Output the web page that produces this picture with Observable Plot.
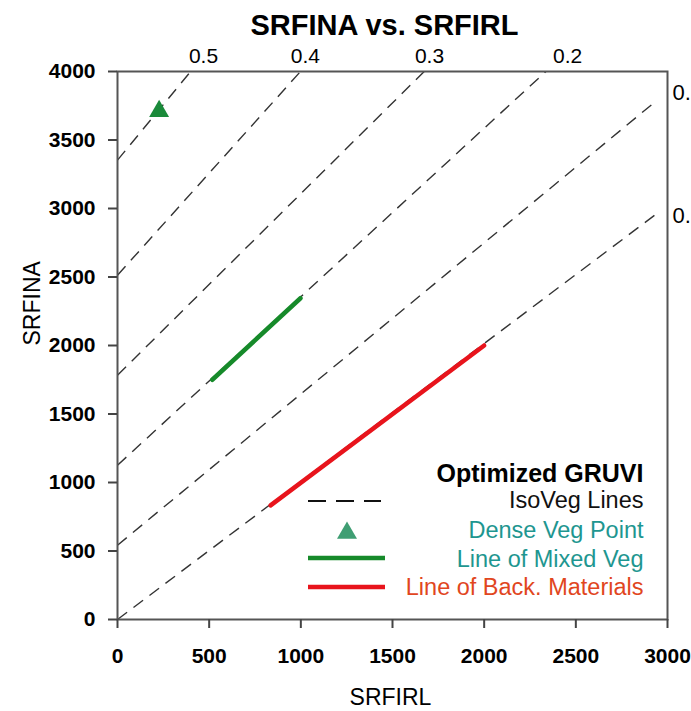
<!DOCTYPE html>
<html><head><meta charset="utf-8">
<script src="https://cdn.jsdelivr.net/npm/d3@7"></script>
<script src="https://cdn.jsdelivr.net/npm/@observablehq/plot@0.6"></script>
<style>body{margin:0;background:#fff}</style>
</head><body><div id="chart"></div>
<script>
// ---- data ----
const isoLevels = ["0.5", "0.4", "0.3", "0.2", "0.1", "0.0"];
const isoX1 = [0, 0, 0, 0, 0, 0];
const isoY1 = [3353, 2513, 1783, 1126, 542, 0];
const isoX2 = [399, 998, 1673, 2337, 2930, 2930];
const isoY2 = [4000, 4000, 4000, 4000, 3776, 2951];

const topLabels = ["0.5", "0.4", "0.3", "0.2"];
const topLabelX = [469, 1025, 1702, 2455];
const sideLabels = ["0.", "0."];
const sideLabelY = [3847, 2949];

const denseVegX = [227];
const denseVegY = [3710];
const mixedVegX = [517, 998];
const mixedVegY = [1750, 2345];
const backMatX = [835, 2000];
const backMatY = [833, 2000];

const xTicks = [0, 500, 1000, 1500, 2000, 2500, 3000];
const yTicks = [0, 500, 1000, 1500, 2000, 2500, 3000, 3500, 4000];

const titleText = "SRFINA vs. SRFIRL";
const xLabel = "SRFIRL";
const yLabel = "SRFINA";
const legendTitle = "Optimized GRUVI";
const legendLabels = ["IsoVeg Lines", "Dense Veg Point", "Line of Mixed Veg", "Line of Back. Materials"];

// ---- build tables ----
const isoData = isoLevels.map((l, i) => ({level: l, x1: isoX1[i], y1: isoY1[i], x2: isoX2[i], y2: isoY2[i]}));
const topLabelData = topLabels.map((t, i) => ({t, x: topLabelX[i], y: 4000}));
const sideLabelData = sideLabels.map((t, i) => ({t, x: 3000, y: sideLabelY[i]}));
const denseVeg = denseVegX.map((x, i) => ({x, y: denseVegY[i]}));
const mixedVeg = mixedVegX.map((x, i) => ({x, y: mixedVegY[i]}));
const backMat = backMatX.map((x, i) => ({x, y: backMatY[i]}));

const FONT = "'Liberation Sans', Arial, sans-serif";
const TEAL = "#1e9690";
const ORANGE = "#e1461e";
const legendColors = ["#111", TEAL, TEAL, ORANGE];
const legendDy = [-119, -89, -60, -32];

function legendSymbols(index, scales, values, dims) {
  const g = d3.create("svg:g");
  g.append("line").attr("x1", 308).attr("x2", 381).attr("y1", 501).attr("y2", 501)
    .attr("stroke", "#111").attr("stroke-width", 2.2).attr("stroke-dasharray", "18,10");
  g.append("path").attr("d", d3.symbol(d3.symbolTriangle, 173)())
    .attr("transform", "translate(347,533)").attr("fill", "#3f9e73");
  g.append("line").attr("x1", 308).attr("x2", 385).attr("y1", 558).attr("y2", 558)
    .attr("stroke", "#168a2a").attr("stroke-width", 4.5);
  g.append("line").attr("x1", 308).attr("x2", 385).attr("y1", 587).attr("y2", 587)
    .attr("stroke", "#e8141c").attr("stroke-width", 4.5);
  return g.node();
}

const chart = Plot.plot({
  width: 691,
  height: 711,
  marginLeft: 117,
  marginRight: 24,
  marginTop: 71,
  marginBottom: 92,
  style: {fontFamily: FONT, background: "#fff", color: "#000"},
  x: {domain: [0, 3000]},
  y: {domain: [0, 4000]},
  marks: [
    Plot.link(isoData, {x1: "x1", y1: "y1", x2: "x2", y2: "y2", stroke: "#333", strokeWidth: 1.4, strokeDasharray: "12,8"}),
    Plot.line(mixedVeg, {x: "x", y: "y", stroke: "#168a2a", strokeWidth: 4.5}),
    Plot.line(backMat, {x: "x", y: "y", stroke: "#e8141c", strokeWidth: 4.5}),
    Plot.dot(denseVeg, {x: "x", y: "y", symbol: "triangle", r: 7.4, fill: "#1a8a3a", stroke: "none"}),
    Plot.frame({stroke: "#555", strokeWidth: 2}),
    Plot.axisX({ticks: xTicks, tickFormat: "d", tickSize: 9, tickPadding: 20, fontSize: 21, fontWeight: "bold", stroke: "#444", strokeWidth: 2, label: null}),
    Plot.axisY({ticks: yTicks, tickFormat: "d", tickSize: 9, tickPadding: 13, fontSize: 21, fontWeight: "bold", stroke: "#444", strokeWidth: 2, label: null}),
    Plot.text(topLabelData, {x: "x", y: "y", text: "t", dy: -15, fontSize: 21, fill: "#000", lineAnchor: "middle"}),
    Plot.text(sideLabelData, {x: "x", y: "y", text: "t", dx: 5, textAnchor: "start", fontSize: 22, fill: "#000", lineAnchor: "middle"}),
    Plot.text([titleText], {text: d => d, frameAnchor: "top", lineAnchor: "middle", dx: -8, dy: -46, fontSize: 29, fontWeight: "bold", fill: "#000"}),
    Plot.text([xLabel], {text: d => d, frameAnchor: "bottom", lineAnchor: "middle", dx: -2, dy: 78, fontSize: 23, fill: "#000"}),
    Plot.text([yLabel], {text: d => d, frameAnchor: "left", lineAnchor: "middle", dx: -85, rotate: -90, fontSize: 23, fill: "#000"}),
    Plot.text([legendTitle], {text: d => d, frameAnchor: "bottom-right", lineAnchor: "middle", textAnchor: "end", dx: -24, dy: -146, fontSize: 25, fontWeight: "bold", fill: "#000"}),
    ...legendLabels.map((t, i) => Plot.text([t], {text: d => d, frameAnchor: "bottom-right", lineAnchor: "middle", textAnchor: "end", dx: -24, dy: legendDy[i], fontSize: 23.5, fill: legendColors[i]})),
    legendSymbols
  ]
});
document.getElementById("chart").appendChild(chart);
</script>
</body></html>
